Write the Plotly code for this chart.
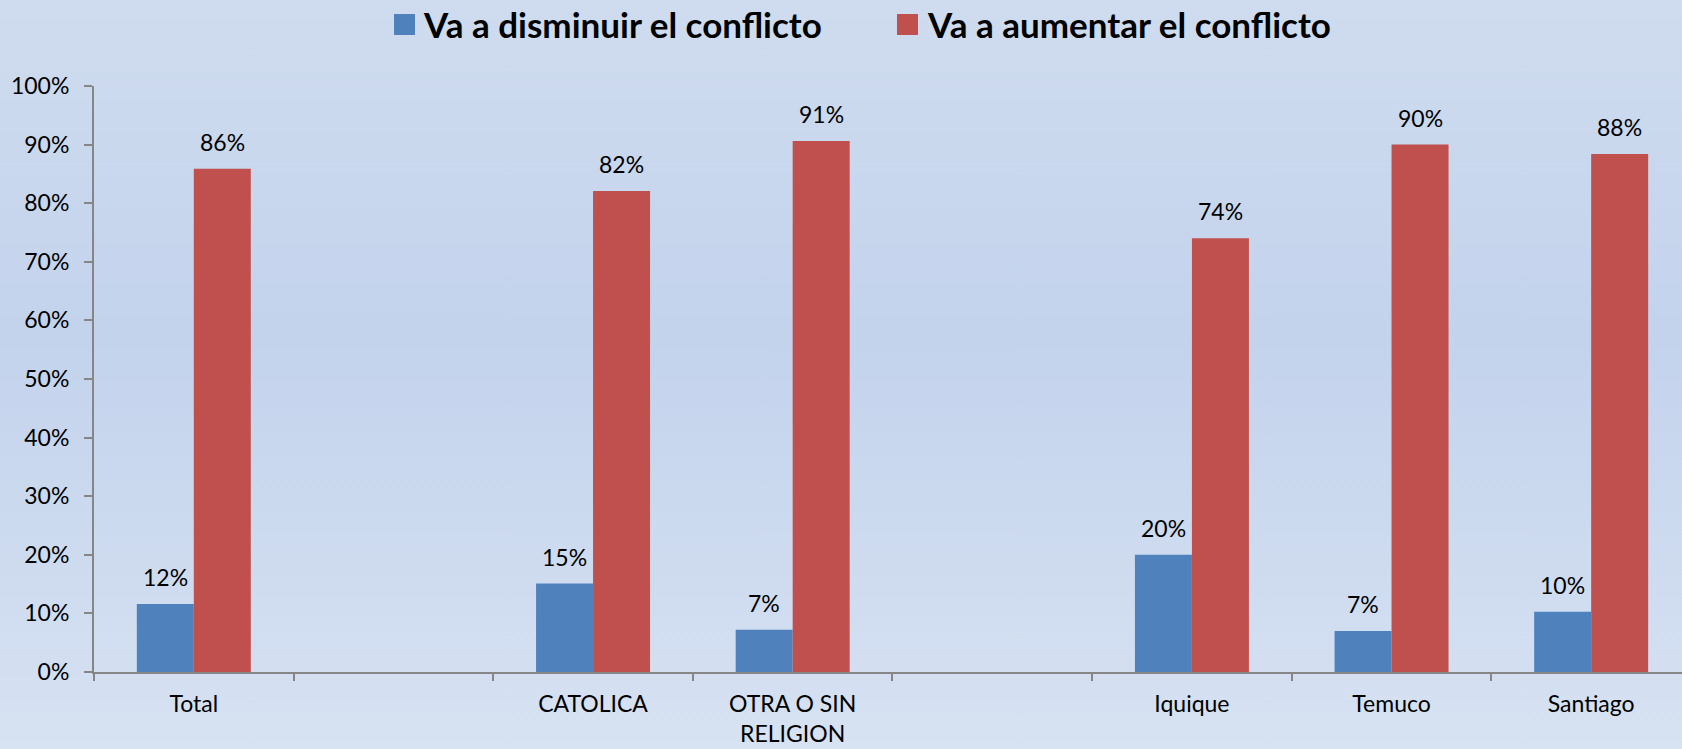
import plotly.graph_objects as go

categories = ["Total", " ", "CATOLICA", "OTRA O SIN<br>RELIGION", "  ", "Iquique", "Temuco", "Santiago"]
series_names = ["Va a disminuir el conflicto", "Va a aumentar el conflicto"]
disminuir = [0.116, None, 0.151, 0.072, None, 0.200, 0.070, 0.103]
aumentar = [0.859, None, 0.821, 0.906, None, 0.740, 0.900, 0.884]
colors = ["#4f81bd", "#c0504d"]
y_ticks = [i / 10 for i in range(11)]

W_IMG, H_IMG = 1682, 749
L, R, T, B = 94, 1682, 86, 672
PW, PH = R - L, B - T
FONT = "Lato"

def px_x(p):
    return (p - L) / PW

def px_y(p):
    return (B - p) / PH

fig = go.Figure()
for name, vals, col in zip(series_names, [disminuir, aumentar], colors):
    fig.add_trace(go.Bar(
        x=categories, y=vals, name=name, marker_color=col,
        marker_line_width=0, showlegend=False,
    ))

annotations = []
half = 28.5
for vals, shift in [(disminuir, -half), (aumentar, half)]:
    for c, v in zip(categories, vals):
        if v is None:
            continue
        annotations.append(dict(
            x=c, y=v, xref="x", yref="y", text=f"{round(v*100)}%",
            showarrow=False, xshift=shift, yanchor="bottom", yshift=11,
            font=dict(family=FONT, size=23, color="#000000"),
        ))

# manual legend
shapes = []
leg = [(394, 415, 421), (897, 918, 925)]
for (x0, x1, tx), name, col in zip(leg, series_names, colors):
    shapes.append(dict(type="rect", xref="paper", yref="paper",
                       x0=px_x(x0), x1=px_x(x1), y0=px_y(35), y1=px_y(14),
                       fillcolor=col, line_width=0))
    annotations.append(dict(
        x=px_x(tx), y=px_y(24), xref="paper", yref="paper", text=f"<b>{name}</b>",
        showarrow=False, xanchor="left", yanchor="middle",
        font=dict(family=FONT, size=35, color="#000000"),
    ))

svg = ("data:image/svg+xml;charset=utf-8,"
       "<svg xmlns='http://www.w3.org/2000/svg' width='100' height='100' preserveAspectRatio='none'>"
       "<defs><linearGradient id='g' x1='0' y1='0' x2='0' y2='1'>"
       "<stop offset='0' stop-color='%23cfdcef'/>"
       "<stop offset='0.45' stop-color='%23c3d3ec'/>"
       "<stop offset='1' stop-color='%23d7e2f2'/>"
       "</linearGradient></defs>"
       "<rect width='100' height='100' fill='url(%23g)'/></svg>")

fig.update_layout(
    width=W_IMG, height=H_IMG,
    margin=dict(l=L, r=W_IMG - R, t=T, b=H_IMG - B, pad=0),
    paper_bgcolor="#cad8ee", plot_bgcolor="rgba(0,0,0,0)",
    barmode="group", bargap=0.429, bargroupgap=0,
    font=dict(family=FONT, size=23, color="#000000"),
    annotations=annotations, shapes=shapes,
    images=[dict(source=svg, xref="paper", yref="paper",
                 x=px_x(0), y=px_y(0), sizex=W_IMG / PW, sizey=H_IMG / PH,
                 xanchor="left", yanchor="top", sizing="stretch", layer="below")],
    xaxis=dict(type="category", categoryorder="array", categoryarray=categories,
               range=[-0.5, 7.455], showgrid=False, showline=True, linecolor="#868686",
               linewidth=2, ticks="outside", ticklen=7, tickwidth=2, tickcolor="#868686",
               tickson="boundaries", ticklabelstandoff=10, fixedrange=True,
               tickfont=dict(family=FONT, size=23)),
    yaxis=dict(range=[0, 1], tickvals=y_ticks, tickformat=".0%", showgrid=False,
               zeroline=False, showline=True, linecolor="#868686", linewidth=2,
               ticks="outside", ticklen=8, tickwidth=2, tickcolor="#868686",
               ticklabelstandoff=10, tickfont=dict(family=FONT, size=23)),
)

fig.write_html(
    "out.html",
    config={"displayModeBar": False},
    post_script="document.body.style.margin='0';document.body.style.overflow='hidden';",
)
